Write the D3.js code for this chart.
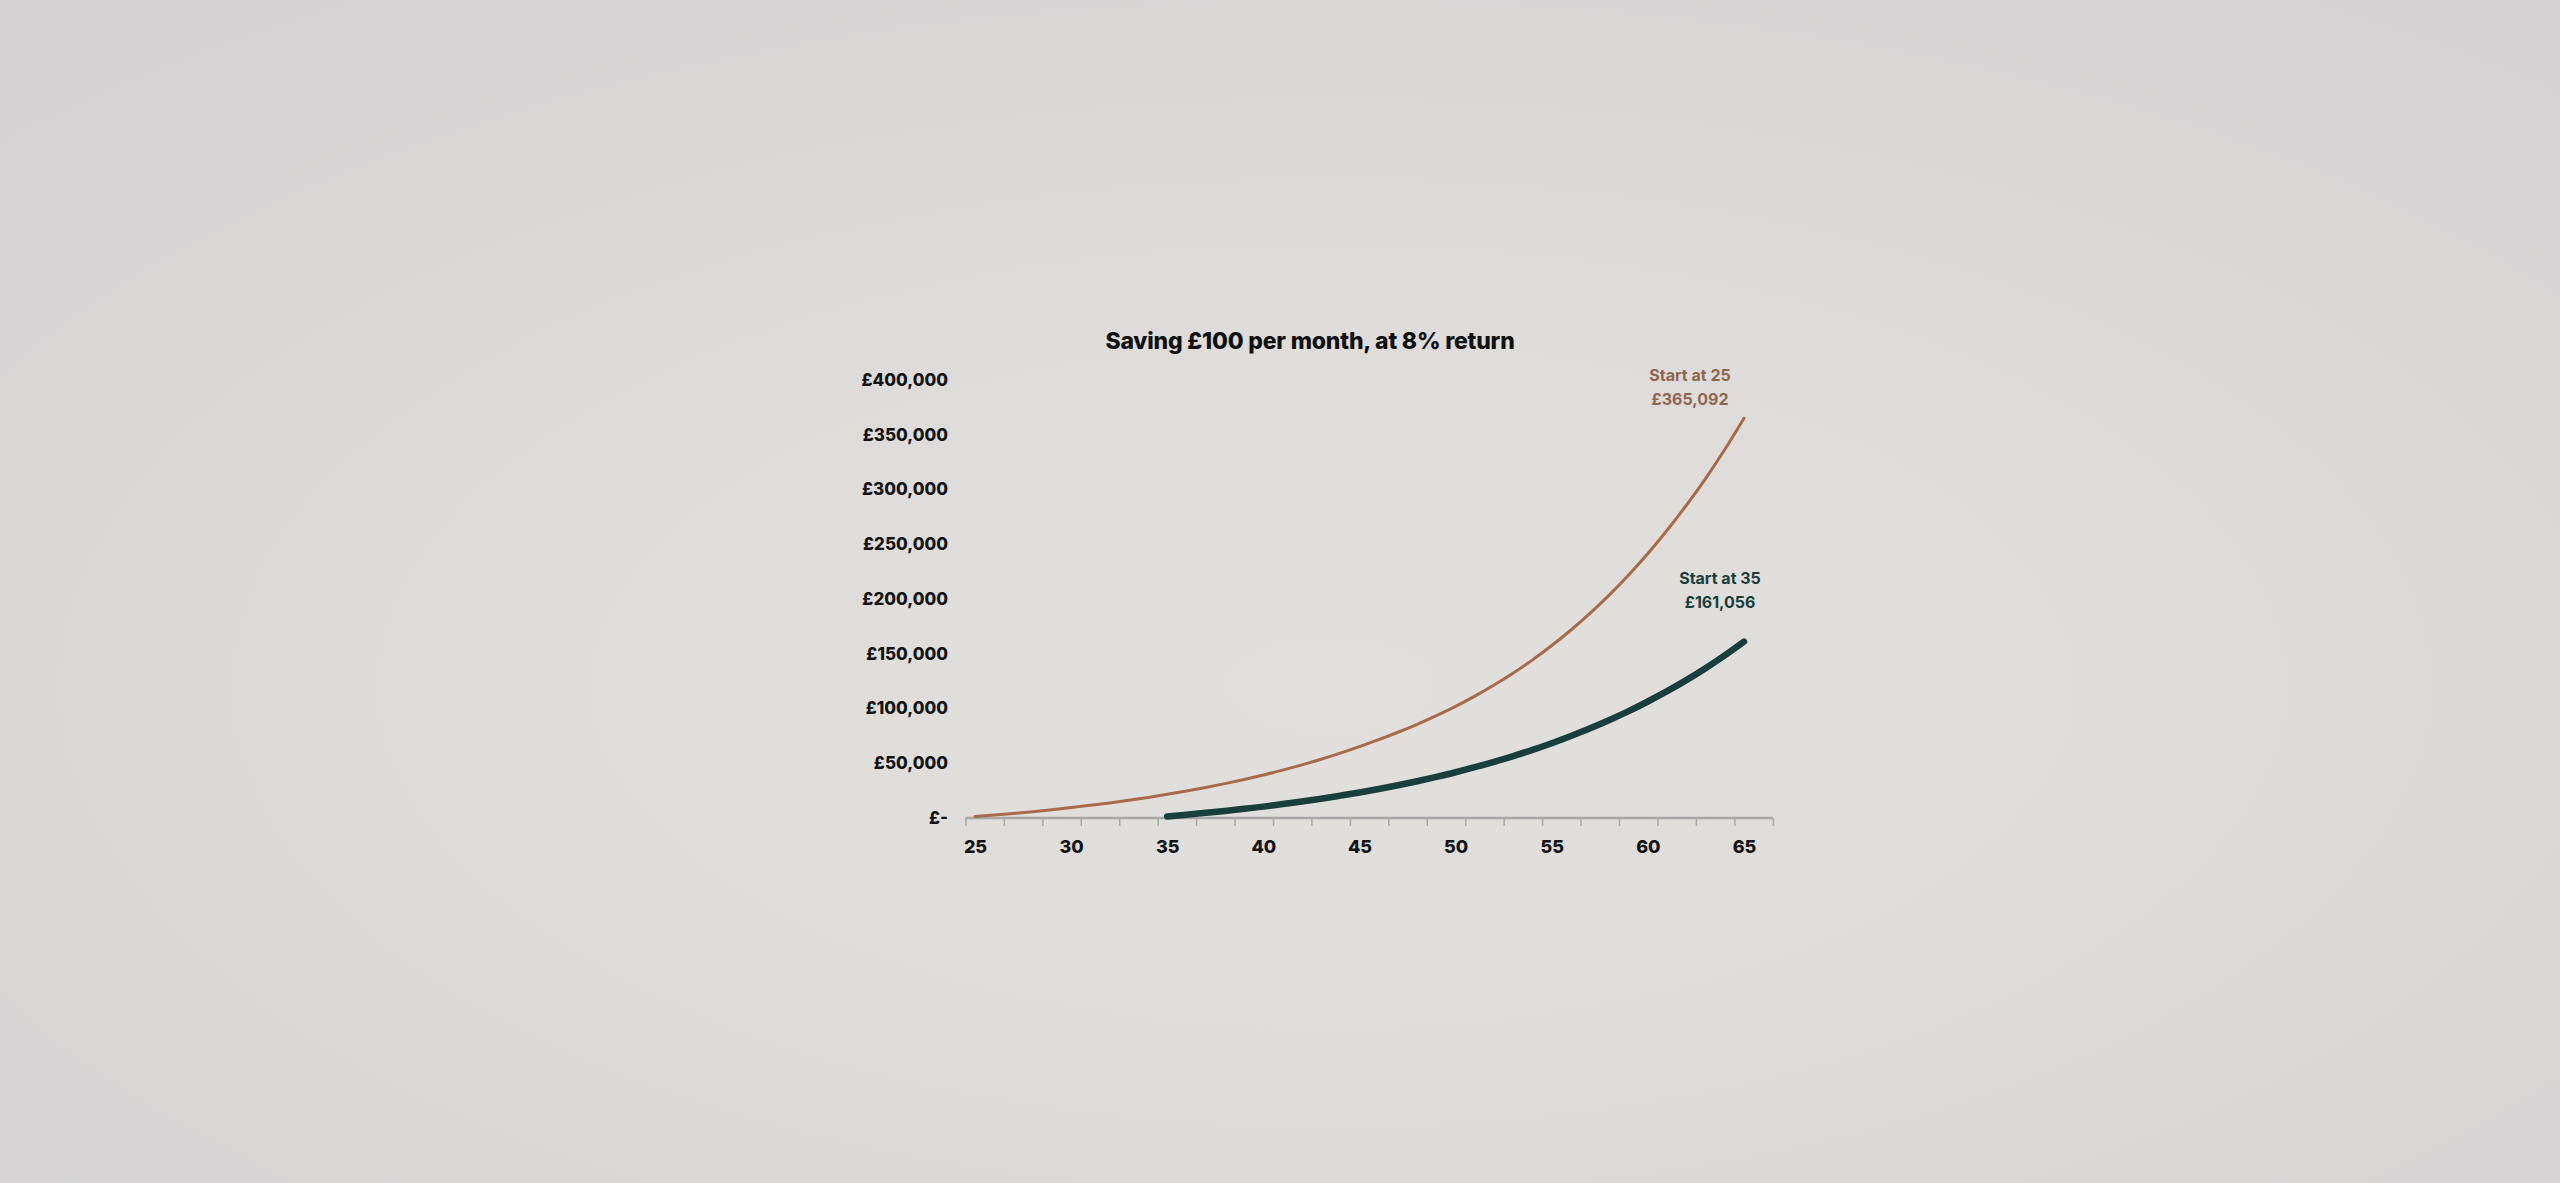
<!DOCTYPE html>
<html>
<head>
<meta charset="utf-8">
<script src="https://cdn.jsdelivr.net/npm/d3@7"></script>
<style>
    body { margin: 0; overflow: hidden; background: #dcdbd9; }
    text { font-family: Inter, "Noto Sans", sans-serif; }
</style>
</head>
<body>
<svg id="chart"></svg>
<script>
const title = "Saving £100 per month, at 8% return";

// pot value at each age
const ages25 = [25, 26, 27, 28, 29, 30, 31, 32, 33, 34, 35, 36, 37, 38, 39, 40, 41, 42, 43, 44, 45,
                46, 47, 48, 49, 50, 51, 52, 53, 54, 55, 56, 57, 58, 59, 60, 61, 62, 63, 64, 65];
const pot25 = [1300, 2700, 4200, 5800, 7600, 9500, 11600, 13800, 16200, 18800, 21600,
               24600, 27900, 31400, 35200, 39300, 43700, 48500, 53700, 59300, 65200,
               71500, 78300, 85600, 93500, 102000, 111300, 121400, 132400, 144400, 157500,
               171700, 187100, 203800, 221900, 241500, 262800, 285600, 310000, 336500, 365092];

const ages35 = [35, 36, 37, 38, 39, 40, 41, 42, 43, 44, 45, 46, 47, 48, 49, 50,
                51, 52, 53, 54, 55, 56, 57, 58, 59, 60, 61, 62, 63, 64, 65];
const pot35 = [1400, 3000, 4700, 6400, 8400, 10400, 12700, 15000, 17600, 20400, 23300,
               26500, 29900, 33600, 37600, 41800, 46400, 51300, 56600, 62200, 68300,
               74900, 81900, 89500, 97600, 106400, 115800, 125900, 136800, 148500, 161056];

const label25 = ["Start at 25", "£365,092"];
const label35 = ["Start at 35", "£161,056"];

const yTicks = [0, 50000, 100000, 150000, 200000, 250000, 300000, 350000, 400000];
const xTicks = [25, 30, 35, 40, 45, 50, 55, 60, 65];
const minorTicks = [24.5, 26.5, 28.5, 30.5, 32.5, 34.5, 36.5, 38.5, 40.5, 42.5, 44.5,
                    46.5, 48.5, 50.5, 52.5, 54.5, 56.5, 58.5, 60.5, 62.5, 64.5, 66.5];

const W = 2560, H = 1183;

var svg = d3.select("#chart").attr("width", W).attr("height", H);

// paper photo background
var grad = svg.append("defs").append("radialGradient")
    .attr("id", "paper")
    .attr("cx", "52%").attr("cy", "58%").attr("r", "75%");
grad.append("stop").attr("offset", "0%").attr("stop-color", "#e1e0dd");
grad.append("stop").attr("offset", "55%").attr("stop-color", "#dcdbd9");
grad.append("stop").attr("offset", "100%").attr("stop-color", "#d3d1d2");
svg.append("rect").attr("width", W).attr("height", H).attr("fill", "url(#paper)");

var x = d3.scaleLinear().domain([25, 65]).range([975, 1744]);
var y = d3.scaleLinear().domain([0, 400000]).range([818, 380]);

svg.append("text")
    .attr("x", 1310)
    .attr("y", 349)
    .attr("text-anchor", "middle")
    .attr("font-size", 23)
    .attr("font-weight", 800)
    .attr("letter-spacing", -0.2)
    .attr("fill", "#111")
    .text(title);

// y labels, no axis line
var yAxis = d3.axisLeft(y)
    .tickValues(yTicks)
    .tickSize(0)
    .tickPadding(0)
    .tickFormat((d) => d === 0 ? "£-" : "£" + d3.format(",")(d));

svg.append("g")
    .attr("class", "y axis")
    .attr("transform", "translate(948,0)")
    .call(yAxis)
    .call((g) => g.select(".domain").remove())
    .selectAll("text")
    .attr("font-size", 17)
    .attr("font-weight", 800)
    .attr("fill", "#141414")
    .attr("font-family", "Inter, 'Noto Sans', sans-serif");

// x axis: minor ticks between years, labels every 5
var xAxisTicks = d3.axisBottom(x)
    .tickValues(minorTicks)
    .tickSize(8)
    .tickFormat("");

var gx = svg.append("g")
    .attr("class", "x axis")
    .attr("transform", "translate(0," + y(0) + ")")
    .call(xAxisTicks);
gx.select(".domain")
    .attr("d", "M" + x(24.5) + ",0H" + x(66.5))
    .attr("stroke", "#a8a8a8")
    .attr("stroke-width", 2.5);
gx.selectAll(".tick line").attr("stroke", "#a8a8a8").attr("stroke-width", 1.5);

var xLabels = d3.axisBottom(x)
    .tickValues(xTicks)
    .tickSize(0)
    .tickPadding(22)
    .tickFormat(d3.format("d"));

svg.append("g")
    .attr("transform", "translate(0," + y(0) + ")")
    .call(xLabels)
    .call((g) => g.select(".domain").remove())
    .selectAll("text")
    .attr("font-size", 18)
    .attr("font-weight", 800)
    .attr("fill", "#141414")
    .attr("font-family", "Inter, 'Noto Sans', sans-serif");

var line = d3.line()
    .x((d) => x(d[0]))
    .y((d) => y(d[1]))
    .curve(d3.curveMonotoneX);

svg.append("path")
    .datum(d3.zip(ages25, pot25))
    .attr("fill", "none")
    .attr("stroke", "#a96a4a")
    .attr("stroke-width", 3)
    .attr("stroke-linecap", "round")
    .attr("d", line);

svg.append("path")
    .datum(d3.zip(ages35, pot35))
    .attr("fill", "none")
    .attr("stroke", "#183f3b")
    .attr("stroke-width", 6.5)
    .attr("stroke-linecap", "round")
    .attr("d", line);

function endLabel(lines, age, value, dx, dy, color) {
    svg.append("g")
        .selectAll("text")
        .data(lines)
        .enter().append("text")
        .attr("x", x(age) + dx)
        .attr("y", (d, i) => y(value) + dy + i * 24)
        .attr("text-anchor", "middle")
        .attr("font-size", 16)
        .attr("font-weight", 700)
        .attr("fill", color)
        .text((d) => d);
}

endLabel(label25, 65, pot25[pot25.length - 1], -54, -37, "#8f6650");
endLabel(label35, 65, pot35[pot35.length - 1], -24, -58, "#1b3d3a");
</script>
</body>
</html>
